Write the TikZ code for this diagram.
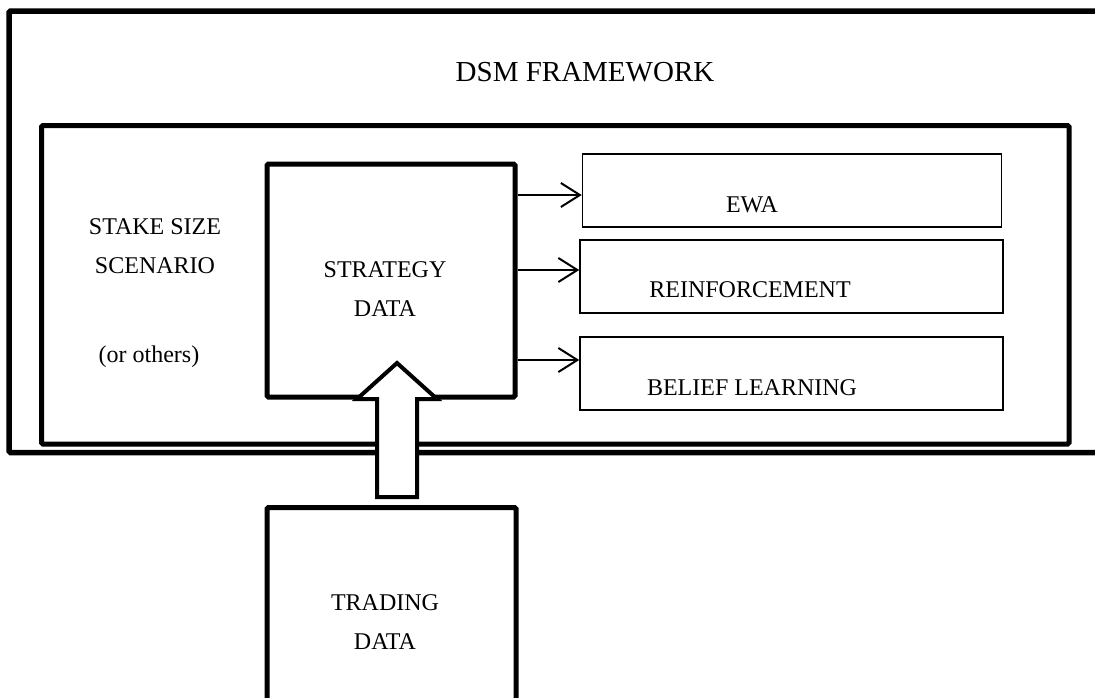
\documentclass[tikz,border=0pt]{standalone}
\usepackage{fontspec}
\setmainfont{Liberation Serif}
\usetikzlibrary{arrows.meta}
\tikzset{
  thick frame/.style={draw=black, line width=5pt, rounded corners=1.5pt},
  thin box/.style={draw=black, line width=1.5pt},
  label text/.style={font=\fontsize{24}{28}\selectfont, align=center, inner sep=0pt},
  title text/.style={font=\fontsize{29}{33}\selectfont, inner sep=0pt},
  link/.style={draw=black, line width=2pt, -{Straight Barb[length=19pt, width=24pt, line width=2pt]}},
}
\begin{document}
\begin{tikzpicture}[x=1pt, y=-1pt]
\clip (0,0) rectangle (1095,697);
\fill[white] (0,0) rectangle (1095,697);

% outer frame (open to the right)
\draw[thick frame, line width=5.5pt] (1110,11) -- (9,11) -- (9,452.5) -- (1110,452.5);
\node[title text] (title) at (585,72) {DSM FRAMEWORK};

% inner frame
\node[thick frame, minimum width=1027.5pt, minimum height=318.5pt, inner sep=0pt] (inner) at (555.25,284.75) {};

% strategy box
\node[thick frame, minimum width=248pt, minimum height=233pt, inner sep=0pt] (strat) at (391,280.5) {};
\node[label text] (stratlab) at (385,289.5) {STRATEGY\\[11pt]DATA};

% scenario text
\node[label text] (stake) at (155,246) {STAKE SIZE\\[11pt]SCENARIO};
\node[label text] (others) at (149,357) {(or others)};

% model boxes
\node[thin box, minimum width=419pt, minimum height=73pt, inner sep=0pt] (ewa) at (792,190.5) {};
\node[label text] (ewalab) at (752,205) {EWA};
\node[thin box, minimum width=423pt, minimum height=73pt, inner sep=0pt] (reinf) at (791.5,276.5) {};
\node[label text] (reinflab) at (750,290) {REINFORCEMENT};
\node[thin box, minimum width=423pt, minimum height=73pt, inner sep=0pt] (belief) at (791.5,373.5) {};
\node[label text] (belieflab) at (752,388) {BELIEF LEARNING};

% arrows
\coordinate (a1) at (strat.east |- 0,195);
\coordinate (a2) at (strat.east |- 0,270);
\coordinate (a3) at (strat.east |- 0,360);
\draw[link] (a1) -- (ewa.west |- a1);
\draw[link] (a2) -- (reinf.west |- a2);
\draw[link] (a3) -- (belief.west |- a3);

% trading box
\node[thick frame, minimum width=249pt, minimum height=260pt, inner sep=0pt, anchor=north] (trade) at (391.5,505) {};
\node[label text] (tradelab) at (385,622.5) {TRADING\\[11pt]DATA};

% block arrow from trading to strategy
\filldraw[draw=black, fill=white, line width=4pt, line join=miter]
  (397,363) -- (437,399) -- (417,399) -- (417,497) -- (377,497) -- (377,399) -- (357,399) -- cycle;
\end{tikzpicture}
\end{document}
